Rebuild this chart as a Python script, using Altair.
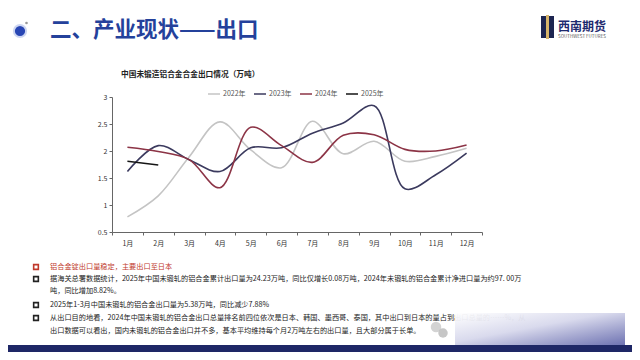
import altair as alt
import pandas as pd

months = ["1月", "2月", "3月", "4月", "5月", "6月", "7月", "8月", "9月", "10月", "11月", "12月"]
series_names = ["2022年", "2023年", "2024年", "2025年"]
v2022 = [0.78, 1.17, 1.89, 2.54, 2.02, 1.69, 2.55, 1.95, 2.18, 1.81, 1.90, 2.05]
v2023 = [1.62, 2.10, 1.84, 1.62, 2.06, 2.06, 2.33, 2.52, 2.84, 1.30, 1.56, 1.96]
v2024 = [2.07, 1.99, 1.84, 1.32, 2.44, 2.10, 1.79, 2.29, 2.30, 2.03, 2.00, 2.11]
v2025 = [1.81, 1.74]
colors = ["#c4c4c4", "#3b3a5e", "#8c3446", "#151515"]
y_ticks = [0.5, 1, 1.5, 2, 2.5, 3]

rows = []
for name, vals in zip(series_names, [v2022, v2023, v2024, v2025]):
    for i, v in enumerate(vals):
        rows.append({"month": months[i], "series": name, "value": v, "order": i})
df = pd.DataFrame(rows)

FONT = "Noto Sans CJK SC"

lines = alt.Chart(df).mark_line(
    interpolate="catmull-rom", strokeWidth=1.6
).encode(
    x=alt.X("month:O", sort=months, bandPosition=0.5,
            scale=alt.Scale(type="band", domain=months, paddingInner=0, paddingOuter=0),
            axis=alt.Axis(title=None, labelAngle=0, tickBand="extent", tickSize=3,
                          labelPadding=4, labelFontSize=7, labelColor="#333",
                          domainColor="#666", tickColor="#666", grid=False)),
    y=alt.Y("value:Q", scale=alt.Scale(domain=[0.5, 3], nice=False, zero=False),
            axis=alt.Axis(title=None, values=y_ticks, format="~g", tickSize=3,
                          labelPadding=2, labelFontSize=7, labelColor="#333",
                          domainColor="#666", tickColor="#666", grid=False)),
    color=alt.Color("series:N", sort=series_names,
                    scale=alt.Scale(domain=series_names, range=colors),
                    legend=alt.Legend(title=None, orient="none", legendX=95, legendY=-10,
                                      direction="horizontal", symbolType="stroke",
                                      symbolSize=144, symbolStrokeWidth=1.5,
                                      labelFontSize=7, labelColor="#555",
                                      labelOffset=2, columnPadding=5)),
    order="order:Q",
)

one = pd.DataFrame({"k": [0]})


def txt(s, x, y, size=7.2, color="#222", weight="normal", align="left", baseline="middle"):
    return alt.Chart(pd.DataFrame({"t": [s]})).mark_text(
        font=FONT, fontSize=size, color=color, fontWeight=weight, align=align, baseline=baseline
    ).encode(x=alt.value(x), y=alt.value(y), text="t:N")


def rect(x, x2, y, y2, color, opacity=1.0):
    return alt.Chart(one).mark_rect(color=color, opacity=opacity).encode(
        x=alt.value(x), x2=alt.value(x2), y=alt.value(y), y2=alt.value(y2))


def bullet(x, y, color):
    return alt.Chart(one).mark_point(shape="square", filled=False, size=22, strokeWidth=1.6,
                                     color=color, opacity=1).encode(x=alt.value(x), y=alt.value(y))


# page coords -> plot coords: x - 112, y - 97
def px(x):
    return x - 112


def py(y):
    return y - 97


layers = []
# bottom band
layers.append(rect(-104, 520, py(345), 255, "#1e2766"))
# header
layers.append(alt.Chart(one).mark_point(shape="circle", filled=True, size=150, color="#2846b4",
                                        stroke="#cdd6f2", strokeWidth=2, opacity=1)
              .encode(x=alt.value(px(20)), y=alt.value(py(31))))
layers.append(alt.Chart(one).mark_point(shape="circle", filled=True, size=7, color="#9a9a9a", opacity=1)
              .encode(x=alt.value(px(26.5)), y=alt.value(py(23))))
layers.append(txt("二、产业现状——出口", px(50), py(31), size=21.5, color="#24419b", weight="bold"))
# logo
layers.append(rect(px(541), px(546), py(16), py(38), "#1d2550"))
layers.append(rect(px(549), px(554), py(16), py(38), "#1d2550"))
layers.append(rect(px(546), px(549), py(15), py(39), "#d7b46a"))
layers.append(txt("西南期货", px(558), py(27), size=12, color="#1e2a6e", weight="bold"))
layers.append(txt("SOUTHWEST FUTURES", px(558), py(37), size=4.5, color="#555"))
# chart title
layers.append(txt("中国未锻造铝合金合金出口情况（万吨）", px(121), py(75), size=7.7, color="#222", weight="bold"))

# bullets and text
layers.append(bullet(px(36), py(267), "#c0392b"))
layers.append(txt("铝合金锭出口量稳定，主要出口至日本", px(50), py(267), color="#c0392b"))
layers.append(bullet(px(36), py(279), "#222"))
layers.append(txt("据海关总署数据统计，2025年中国未锻轧的铝合金累计出口量为24.23万吨，同比仅增长0.08万吨，2024年未锻轧的铝合金累计净进口量为约97. 00万",
                  px(50), py(279)))
layers.append(txt("吨，同比增加8.82%。", px(50), py(291)))
layers.append(bullet(px(36), py(305), "#222"))
layers.append(txt("2025年1-3月中国未锻轧的铝合金出口量为5.38万吨，同比减少7.88%", px(50), py(305)))
layers.append(bullet(px(36), py(318), "#222"))
layers.append(txt("从出口目的地看，2024年中国未锻轧的铝合金出口总量排名前四位依次是日本、韩国、墨西哥、泰国，其中出口到日本的量占到出口总量的……%，从",
                  px(50), py(318)))
layers.append(txt("出口数据可以看出，国内未锻轧的铝合金出口并不多，基本平均维持每个月2万吨左右的出口量，且大部分属于长单。",
                  px(50), py(331)))
# watermark
layers.append(alt.Chart(one).mark_rect(
    color=alt.Gradient(gradient="linear", x1=0, y1=0, x2=1, y2=1,
                       stops=[alt.GradientStop(color="rgba(255,255,255,0.95)", offset=0),
                              alt.GradientStop(color="rgba(215,216,236,0.95)", offset=0.45),
                              alt.GradientStop(color="rgba(95,100,170,0.9)", offset=1)])
).encode(x=alt.value(px(455)), x2=alt.value(px(625)), y=alt.value(py(313)), y2=alt.value(py(345))))
layers.append(alt.Chart(one).mark_point(shape="circle", filled=True, size=110, color="#c8c8c8", opacity=0.8)
              .encode(x=alt.value(px(436)), y=alt.value(py(327))))
layers.append(alt.Chart(one).mark_point(shape="circle", filled=True, size=90, color="#b8b8b8", opacity=0.8)
              .encode(x=alt.value(px(443)), y=alt.value(py(333))))

chart = alt.layer(lines, *layers).properties(
    width=370, height=135,
    padding={"left": 104, "top": 89, "right": 150, "bottom": 120},
    autosize=alt.AutoSizeParams(type="none"),
    background="#ffffff",
).configure(font=FONT).configure_view(stroke=None)

chart.save("out.html", embed_options={"renderer": "svg", "actions": False})
